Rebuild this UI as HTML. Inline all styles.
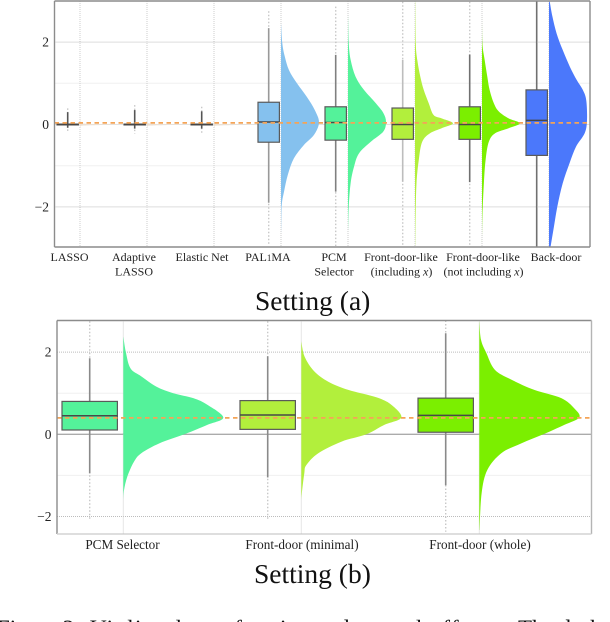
<!DOCTYPE html>
<html lang="en">
<head>
<meta charset="utf-8">
<title>Violin plots of estimated causal effects</title>
<style>
html,body{margin:0;padding:0;background:#fff;width:610px;height:622px;overflow:hidden}
svg{display:block;filter:blur(0.3px)}
text{font-family:"Liberation Serif",serif;fill:#222}
.cat{font-size:12px;text-anchor:middle}
.catb{font-size:13.2px;text-anchor:middle}
.tick{font-size:13.5px;text-anchor:end}
.title{font-size:27.5px;fill:#111}
.caption{font-size:23px;fill:#111}
</style>
</head>
<body>
<svg id="figure" xmlns="http://www.w3.org/2000/svg" width="610" height="622" viewBox="0 0 610 622">
  <defs>
    <clipPath id="clip-a"><rect x="54.5" y="1" width="535.5" height="246"/></clipPath>
    <clipPath id="clip-b"><rect x="57" y="320.5" width="534.5" height="213.5"/></clipPath>
  </defs>
  <g id="panel-a"></g>
  <g id="panel-b"></g>

  <g>
    <text class="cat" x="69.5" y="261">LASSO</text>
    <text class="cat" x="134" y="261">Adaptive</text>
    <text class="cat" x="134" y="275.7">LASSO</text>
    <text class="cat" x="202" y="261">Elastic Net</text>
    <text class="cat" x="268" y="261">PAL<tspan font-size="9">1</tspan>MA</text>
    <text class="cat" x="334" y="261">PCM</text>
    <text class="cat" x="334" y="275.7">Selector</text>
    <text class="cat" x="401" y="261">Front-door-like</text>
    <text class="cat" x="401.5" y="275.7">(including <tspan font-style="italic">x</tspan>)</text>
    <text class="cat" x="483" y="261">Front-door-like</text>
    <text class="cat" x="483.5" y="275.7">(not including <tspan font-style="italic">x</tspan>)</text>
    <text class="cat" x="556" y="261">Back-door</text>
  </g>
  <text class="title" x="255" y="310">Setting (a)</text>

  <g>
    <text class="catb" x="122.5" y="549">PCM Selector</text>
    <text class="catb" x="302" y="549">Front-door (minimal)</text>
    <text class="catb" x="480" y="549">Front-door (whole)</text>
  </g>
  <text class="title" x="254" y="583">Setting (b)</text>

  <g>
    <text class="caption" x="-3" y="636">Figure 2:</text>
    <text class="caption" x="90" y="636" textLength="417">Violin plots of estimated causal effects.</text>
    <text class="caption" x="518" y="636">The dash</text>
  </g>
</svg>

<script>
// ---------- Tick labels ----------
const yTickValues = [2, 0, -2];
const yMinorValues = [1, -1];

// ---------- Setting (a) data ----------
const categoriesA = ['LASSO', 'Adaptive LASSO', 'Elastic Net', 'PAL1MA', 'PCM Selector', 'Front-door-like incl', 'Front-door-like not incl', 'Back-door'];
const referenceA = 0.04;
const q1A = [-0.01, -0.01, -0.01, -0.43, -0.38, -0.36, -0.36, -0.75];
const medianA = [0, 0, 0, 0.06, 0.05, 0, 0, 0.1];
const q3A = [0.01, 0.01, 0.01, 0.54, 0.43, 0.40, 0.43, 0.84];
const whiskerLowA = [-0.08, -0.1, -0.1, -1.9, -1.63, -1.39, -1.4, -3.1];
const whiskerHighA = [0.3, 0.35, 0.32, 2.34, 1.69, 1.57, 1.7, 3.1];
const outlierLowA = [-0.17, -0.22, -0.22, -2.93, -2.95, -2.98, -2.98, -3.1];
const outlierHighA = [0.39, 0.47, 0.43, 2.75, 2.86, 2.98, 2.98, 3.1];

const gridLasso = [0.2, 0.03, 0, -0.03, -0.1];
const densityLasso = [0, 0.03, 1, 0.03, 0];
const gridAdaptive = [0.25, 0.03, 0, -0.03, -0.1];
const densityAdaptive = [0, 0.03, 1, 0.03, 0];
const gridElastic = [0.25, 0.03, 0, -0.03, -0.1];
const densityElastic = [0, 0.03, 1, 0.03, 0];
const gridPal = [2.46, 1.97, 1.65, 1.32, 1.0, 0.67, 0.35, 0.05, -0.25, -0.5, -0.82, -1.22, -1.63, -1.95, -2.44, -2.68];
const densityPal = [0, 0.035, 0.10, 0.21, 0.42, 0.68, 0.89, 1, 0.87, 0.6, 0.34, 0.18, 0.08, 0.02, 0.005, 0];
const gridPcmA = [2.66, 1.97, 1.57, 1.16, 0.84, 0.52, 0.28, 0.07, -0.17, -0.42, -0.7, -1.02, -1.42, -1.99, -2.64];
const densityPcmA = [0, 0.02, 0.07, 0.2, 0.42, 0.73, 0.93, 1, 0.93, 0.6, 0.29, 0.16, 0.07, 0.02, 0];
const gridFd1 = [2.98, 1.97, 1.57, 1.16, 0.84, 0.52, 0.23, 0.15, 0.03, -0.09, -0.21, -0.42, -0.86, -1.42, -2.23, -2.93];
const densityFd1 = [0.004, 0.02, 0.06, 0.14, 0.23, 0.36, 0.49, 0.7, 1, 0.7, 0.4, 0.19, 0.1, 0.04, 0.015, 0.005];
const gridFd2 = [2.66, 1.97, 1.57, 1.16, 0.84, 0.52, 0.32, 0.15, 0.03, -0.09, -0.21, -0.42, -0.86, -1.42, -2.23, -2.88];
const densityFd2 = [0, 0.01, 0.07, 0.14, 0.2, 0.31, 0.44, 0.7, 1, 0.7, 0.35, 0.18, 0.095, 0.05, 0.01, 0];
const gridBack = [2.98, 2.62, 2.21, 1.81, 1.4, 1.08, 0.84, 0.59, 0.11, -0.21, -0.54, -0.94, -1.43, -1.99, -2.48, -2.98];
const densityBack = [0.02, 0.09, 0.2, 0.36, 0.55, 0.73, 0.89, 0.98, 1, 0.94, 0.71, 0.54, 0.36, 0.22, 0.13, 0.04];

// ---------- Setting (b) data ----------
const categoriesB = ['PCM Selector', 'Front-door (minimal)', 'Front-door (whole)'];
const referenceB = 0.40;
const q1B = [0.105, 0.12, 0.05];
const medianB = [0.45, 0.47, 0.46];
const q3B = [0.80, 0.82, 0.88];
const whiskerLowB = [-0.95, -1.05, -1.24];
const whiskerHighB = [1.85, 1.9, 2.46];
const outlierLowB = [-2.09, -2.09, -2.37];
const outlierHighB = [2.75, 2.75, 2.77];

const gridPcmB = [2.38, 1.98, 1.6, 1.41, 1.16, 1.0, 0.88, 0.72, 0.41, 0.23, 0, -0.22, -0.46, -0.67, -1.03, -1.36, -1.6];
const densityPcmB = [0, 0.027, 0.073, 0.18, 0.33, 0.5, 0.7, 0.84, 1, 0.84, 0.61, 0.36, 0.18, 0.106, 0.04, 0.007, 0];
const gridMinimal = [2.26, 1.89, 1.53, 1.28, 1.08, 0.9, 0.72, 0.41, 0.23, 0, -0.18, -0.46, -0.75, -0.95, -1.44, -1.6];
const densityMinimal = [0, 0.033, 0.13, 0.27, 0.47, 0.75, 0.9, 1, 0.83, 0.65, 0.4, 0.17, 0.05, 0.03, 0.005, 0];
const gridWhole = [2.77, 2.3, 1.98, 1.57, 1.33, 1.08, 0.88, 0.63, 0.41, 0.23, 0, -0.22, -0.46, -0.87, -1.44, -2.33];
const densityWhole = [0, 0.017, 0.07, 0.155, 0.32, 0.55, 0.82, 0.95, 1, 0.85, 0.64, 0.42, 0.22, 0.08, 0.023, 0.002];

// ---------- Axis functions ----------
const yA = v => 124.5 - 41.2 * v;
const xA = i => 80 + 67 * i;
const yB = v => 434.3 - 41.1 * v;
const xB = i => 123.3 + 178 * i;

const NS = 'http://www.w3.org/2000/svg';
function add(parent, tag, attrs) {
  const el = document.createElementNS(NS, tag);
  for (const k in attrs) el.setAttribute(k, attrs[k]);
  parent.appendChild(el);
  return el;
}
function slug(s) { return s.toLowerCase().replace(/[^a-z0-9]+/g, '-'); }

// Smooth outline through the density samples (Catmull-Rom to cubic Bezier)
function violinPath(base, grid, dens, width, y) {
  const pts = grid.map((v, j) => [base + dens[j] * width, y(v)]);
  let d = 'M' + base + ' ' + pts[0][1].toFixed(2) + ' L' + pts[0][0].toFixed(2) + ' ' + pts[0][1].toFixed(2);
  for (let j = 0; j < pts.length - 1; j++) {
    const p0 = pts[Math.max(j - 1, 0)];
    const p1 = pts[j];
    const p2 = pts[j + 1];
    const p3 = pts[Math.min(j + 2, pts.length - 1)];
    const c1x = Math.max(base, p1[0] + (p2[0] - p0[0]) / 6);
    const c1y = p1[1] + (p2[1] - p0[1]) / 6;
    const c2x = Math.max(base, p2[0] - (p3[0] - p1[0]) / 6);
    const c2y = p2[1] - (p3[1] - p1[1]) / 6;
    d += ' C' + c1x.toFixed(2) + ' ' + c1y.toFixed(2) + ' ' + c2x.toFixed(2) + ' ' + c2y.toFixed(2) + ' ' + p2[0].toFixed(2) + ' ' + p2[1].toFixed(2);
  }
  return d + ' L' + base + ' ' + pts[pts.length - 1][1].toFixed(2) + ' Z';
}

function drawPanel(cfg) {
  const g = document.getElementById(cfg.id);
  const plot = add(g, 'g', { 'clip-path': 'url(#' + cfg.clip + ')' });
  
  

  // horizontal grid
  yMinorValues.forEach(v => {
    const l = add(plot, 'line', { x1: cfg.left, x2: cfg.right, y1: cfg.y(v), y2: cfg.y(v), stroke: '#f0f0f0', 'stroke-width': 1 });
    
    
  });
  yTickValues.forEach(v => {
    const zero = v === 0;
    const l = add(plot, 'line', {
      x1: cfg.left, x2: cfg.right, y1: cfg.y(v), y2: cfg.y(v),
      stroke: zero ? cfg.zeroColor : '#bcbcbc',
      'stroke-width': zero ? cfg.zeroWidth : 1,
      'stroke-dasharray': zero ? 'none' : '1 1'
    });
    
    
  });
  // vertical grid
  cfg.categories.forEach((c, i) => {
    const l = add(plot, 'line', { x1: cfg.x(i), x2: cfg.x(i), y1: cfg.top, y2: cfg.bottom, stroke: '#cdcdcd', 'stroke-width': 1, 'stroke-dasharray': '1 1' });
    
    
  });

  // violins
  cfg.categories.forEach((c, i) => {
    const d = violinPath(cfg.x(i), cfg.grids[i], cfg.densities[i], cfg.violinWidth, cfg.y);
    const p = add(plot, 'path', { d: d, fill: cfg.colors[i], stroke: 'none' });
    
    
  });

  // boxes
  cfg.categories.forEach((c, i) => {
    const cx = cfg.x(i) + cfg.boxOffset;
    const hw = cfg.boxHalf;
    const outl = add(plot, 'line', { x1: cx, x2: cx, y1: cfg.y(cfg.outHigh[i]), y2: cfg.y(cfg.outLow[i]), stroke: '#c8c8c8', 'stroke-width': 1.4, 'stroke-dasharray': '1.5 2' });
    
    
    const wh = add(plot, 'line', { x1: cx, x2: cx, y1: cfg.y(cfg.wHigh[i]), y2: cfg.y(cfg.wLow[i]), stroke: cfg.whiskerColors[i], 'stroke-width': cfg.whiskerWidth });
    
    
    const r = add(plot, 'rect', {
      x: cx - hw, width: 2 * hw,
      y: cfg.y(cfg.q3[i]), height: Math.max(cfg.y(cfg.q1[i]) - cfg.y(cfg.q3[i]), 0.5),
      fill: cfg.colors[i], stroke: '#5a5a5a', 'stroke-width': 1.2
    });
    
    
    const m = add(plot, 'line', { x1: cx - hw, x2: cx + hw, y1: cfg.y(cfg.median[i]), y2: cfg.y(cfg.median[i]), stroke: '#484848', 'stroke-width': 1.5 });
    
    
  });

  // reference line
  const ref = add(plot, 'line', { x1: cfg.left, x2: cfg.right, y1: cfg.y(cfg.reference), y2: cfg.y(cfg.reference), stroke: '#f4a457', 'stroke-width': 1.8, 'stroke-dasharray': '4.5 3.5' });
  
  

  // frame
  [[cfg.left, cfg.top, cfg.right, cfg.top, '#8c8c8c'],
   [cfg.left, cfg.top, cfg.left, cfg.bottom, '#8c8c8c'],
   [cfg.right, cfg.top, cfg.right, cfg.bottom, cfg.rightColor],
   [cfg.left, cfg.bottom, cfg.right, cfg.bottom, cfg.bottomColor]].forEach(s => {
    const l = add(g, 'line', { x1: s[0], y1: s[1], x2: s[2], y2: s[3], stroke: s[4], 'stroke-width': 1.4 });
    
    
  });

  // y tick labels
  yTickValues.forEach(v => {
    const t = add(g, 'text', { class: 'tick', x: cfg.left - 5.5, y: cfg.y(v) + 4.5 });
    t.textContent = v < 0 ? '\u2212' + Math.abs(v) : String(v);
    
    
  });
}

drawPanel({
  id: 'panel-a', clip: 'clip-a', left: 54.5, right: 590, top: 1, bottom: 247,
  x: xA, y: yA, categories: categoriesA, reference: referenceA,
  q1: q1A, median: medianA, q3: q3A, wLow: whiskerLowA, wHigh: whiskerHighA, outLow: outlierLowA, outHigh: outlierHighA,
  grids: [gridLasso, gridAdaptive, gridElastic, gridPal, gridPcmA, gridFd1, gridFd2, gridBack],
  densities: [densityLasso, densityAdaptive, densityElastic, densityPal, densityPcmA, densityFd1, densityFd2, densityBack],
  colors: ['#eadfd3', '#eadfd3', '#eadfd3', '#85c1ee', '#54f29a', '#b2ef3c', '#7bef00', '#4b78fb'],
  whiskerColors: ['#555', '#555', '#555', '#999', '#808080', '#bdbdbd', '#707070', '#707070'],
  whiskerWidth: 1.6, violinWidth: 38, boxOffset: -12.3, boxHalf: 10.7,
  zeroColor: '#e2e2e2', zeroWidth: 1, rightColor: '#8c8c8c', bottomColor: '#8c8c8c'
});

drawPanel({
  id: 'panel-b', clip: 'clip-b', left: 57, right: 591.5, top: 320.5, bottom: 534,
  x: xB, y: yB, categories: categoriesB, reference: referenceB,
  q1: q1B, median: medianB, q3: q3B, wLow: whiskerLowB, wHigh: whiskerHighB, outLow: outlierLowB, outHigh: outlierHighB,
  grids: [gridPcmB, gridMinimal, gridWhole],
  densities: [densityPcmB, densityMinimal, densityWhole],
  colors: ['#54f29a', '#b2ef3c', '#7bef00'],
  whiskerColors: ['#8a8a8a', '#8a8a8a', '#8a8a8a'],
  whiskerWidth: 1.6, violinWidth: 100, boxOffset: -33.6, boxHalf: 27.7,
  zeroColor: '#ababab', zeroWidth: 1.4, rightColor: '#b4b4b4', bottomColor: '#d4d4d4'
});
</script>
</body>
</html>
